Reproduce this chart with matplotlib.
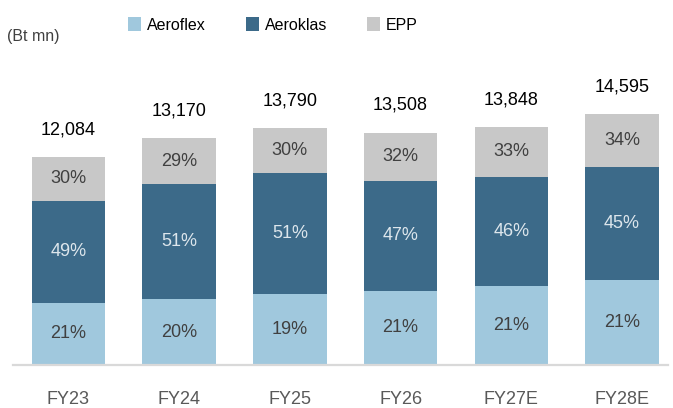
import numpy as np
import matplotlib
matplotlib.use('Agg')
from matplotlib import pyplot as plt

years = ['FY23', 'FY24', 'FY25', 'FY26', 'FY27E', 'FY28E']
totals = [12084, 13170, 13790, 13508, 13848, 14595]
aeroflex_pct = [21, 20, 19, 21, 21, 21]
aeroklas_pct = [49, 51, 51, 47, 46, 45]
epp_pct = [30, 29, 30, 32, 33, 34]

c_flex = '#A0C8DD'
c_klas = '#3C6A89'
c_epp = '#C8C8C8'

plt.rcParams['font.family'] = ['Liberation Sans', 'DejaVu Sans']

def mainf():
    tot = np.array(totals, dtype=float)
    # in the source chart the bottom block is drawn with the epp share
    # and the top block with the aeroflex share (labels stay as printed)
    h_bot = tot * np.array(epp_pct) / 100
    h_mid = tot * np.array(aeroklas_pct) / 100
    h_top = tot * np.array(aeroflex_pct) / 100
    x = np.arange(len(years))

    fig = plt.figure(figsize=(6.73, 4.08), dpi=100)
    ax = fig.add_axes([13/673, 43/408, 655/673, 305/408])

    w = 0.664
    b1 = ax.bar(x, h_bot, w, color=c_flex, label='Aeroflex')
    b2 = ax.bar(x, h_mid, w, bottom=h_bot, color=c_klas, label='Aeroklas')
    b3 = ax.bar(x, h_top, w, bottom=h_bot + h_mid, color=c_epp, label='EPP')

    for i in range(len(years)):
        ax.text(x[i], h_bot[i] / 2, '%d%%' % aeroflex_pct[i], ha='center', va='center',
                fontsize=13, color='#404040')
        ax.text(x[i], h_bot[i] + h_mid[i] / 2, '%d%%' % aeroklas_pct[i], ha='center', va='center',
                fontsize=13, color='#DDE6EC')
        ax.text(x[i], h_bot[i] + h_mid[i] + h_top[i] / 2, '%d%%' % epp_pct[i], ha='center',
                va='center', fontsize=13, color='#404040')
        ax.annotate('{:,}'.format(totals[i]), (x[i], tot[i]), xytext=(0, 19.5),
                    textcoords='offset points', ha='center', va='center',
                    fontsize=13, color='black')

    ax.set_xlim(-0.501, 5.415)
    ax.set_ylim(0, 17722)
    ax.set_xticks(x)
    ax.set_xticklabels(years, fontsize=13, color='#595959')
    ax.tick_params(axis='x', length=0, pad=19)
    ax.set_yticks([])
    for s in ['top', 'right', 'left']:
        ax.spines[s].set_visible(False)
    ax.spines['bottom'].set_color('#D9D9D9')
    ax.spines['bottom'].set_linewidth(1.6)

    fig.legend(handles=[b1, b2, b3], loc='center left',
               bbox_to_anchor=(128/673, 1 - 25/408), ncol=3, frameon=False,
               fontsize=11.5, handlelength=0.82, handleheight=0.95,
               handletextpad=0.37, columnspacing=2.5, borderpad=0, borderaxespad=0)
    fig.text(7/673, 1 - 36/408, '(Bt mn)', ha='left', va='center', fontsize=11.5,
             color='#404040')

    fig.savefig('out.png', dpi=100)

if __name__ == "__main__":
    mainf()
